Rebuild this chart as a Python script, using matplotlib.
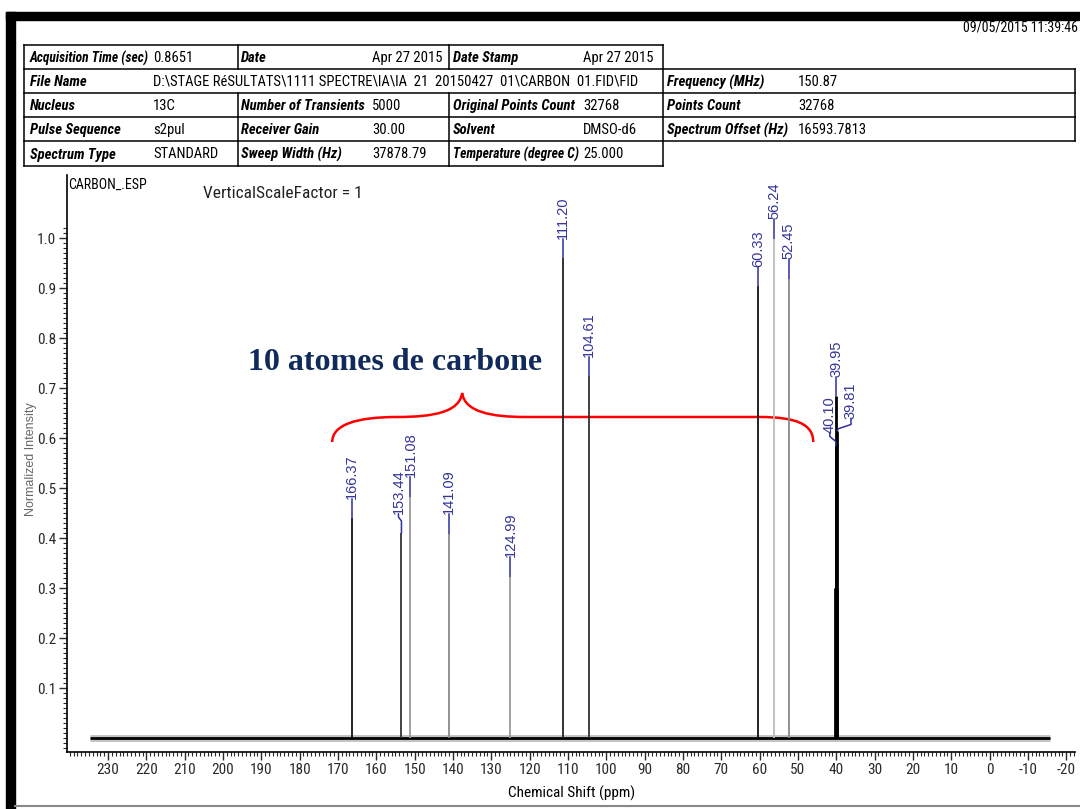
import numpy as np
import matplotlib
matplotlib.use('Agg')
import matplotlib.pyplot as plt
from matplotlib import font_manager
from matplotlib.patches import Rectangle, PathPatch
from matplotlib.path import Path
from matplotlib.lines import Line2D
from matplotlib.ticker import FixedLocator, FormatStrFormatter

# 13C peaks (ppm) and normalized heights
peak_ppm = [166.37, 153.44, 151.08, 141.09, 124.99, 111.20, 104.61, 60.33, 56.24, 52.45]
peak_height = [0.44, 0.41, 0.485, 0.41, 0.325, 0.96, 0.725, 0.905, 1.0, 0.92]
peak_color = ['#111111', '#333333', '#9a9a9a', '#8a8a8a', '#9a9a9a',
              '#222222', '#333333', '#111111', '#bbbbbb', '#888888']

# DMSO-d6 septet
dmso_ppm = [40.24, 40.10, 39.95, 39.81, 39.67]
dmso_height = [0.30, 0.585, 0.685, 0.615, 0.30]

# peak picking labels
label_text = ['166.37', '153.44', '151.08', '141.09', '124.99', '111.20', '104.61',
              '60.33', '56.24', '52.45', '40.10', '39.95', '39.81']
label_ppm = peak_ppm + [40.10, 39.95, 39.81]
label_height = peak_height + [0.585, 0.685, 0.615]

baseline_ppm = [234.7, -15.8]

# acquisition table
table_rows = [
    ['Acquisition Time (sec)', '0.8651', 'Date', 'Apr 27 2015', 'Date Stamp', 'Apr 27 2015'],
    ['File Name', 'D:\\STAGE RéSULTATS\\1111 SPECTRE\\IA\\IA  21  20150427  01\\CARBON  01.FID\\FID',
     'Frequency (MHz)', '150.87'],
    ['Nucleus', '13C', 'Number of Transients', '5000', 'Original Points Count', '32768',
     'Points Count', '32768'],
    ['Pulse Sequence', 's2pul', 'Receiver Gain', '30.00', 'Solvent', 'DMSO-d6',
     'Spectrum Offset (Hz)', '16593.7813'],
    ['Spectrum Type', 'STANDARD', 'Sweep Width (Hz)', '37878.79', 'Temperature (degree C)', '25.000'],
]

W, H = 1080, 809
names = {f.name for f in font_manager.fontManager.ttflist}
NARROW = next(c for c in ['Liberation Sans Narrow', 'Roboto Condensed', 'DejaVu Sans'] if c in names)
ARIAL = 'Liberation Sans'


def fx(px):
    return px / W


def fy(py):
    return 1 - py / H


fig = plt.figure(figsize=(W / 100, H / 100), dpi=100)
fig.patch.set_facecolor('white')

# --- page frame ---
fig.add_artist(Rectangle((fx(6), 0), fx(9), fy(12), transform=fig.transFigure, color='black'))
fig.add_artist(Rectangle((fx(6), fy(20)), 1, 8 / H, transform=fig.transFigure, color='black'))
fig.add_artist(Line2D([fx(15), 1], [fy(806), fy(806)], transform=fig.transFigure, color='#888888', lw=1.5))
fig.text(fx(1078), fy(27), '09/05/2015 11:39:46', ha='right', va='center', fontsize=10,
         family=NARROW, fontstretch='condensed')

# --- acquisition table ---
row_y = [45, 69, 93, 117, 141, 166]
col_x = [24, 237.6, 449, 663, 1075]
text_x = [30, 153, 241, 372, 453, 583, 667, 798]


def hline(y, x0, x1):
    fig.add_artist(Line2D([fx(x0), fx(x1)], [fy(y), fy(y)], transform=fig.transFigure, color='black', lw=1.1))


def vline(x, y0, y1):
    fig.add_artist(Line2D([fx(x), fx(x)], [fy(y0), fy(y1)], transform=fig.transFigure, color='black', lw=1.1))


hline(row_y[0], col_x[0], col_x[3])
for y in row_y[1:5]:
    hline(y, col_x[0], col_x[4])
hline(row_y[5], col_x[0], col_x[3])
vline(col_x[0], row_y[0], row_y[5])
vline(col_x[3], row_y[0], row_y[5])
vline(col_x[4], row_y[1], row_y[4])
for x in col_x[1:3]:
    vline(x, row_y[0], row_y[1])
    vline(x, row_y[2], row_y[5])

table_texts = []
for i, row in enumerate(table_rows):
    yc = (row_y[i] + row_y[i + 1]) / 2 + 1
    if i == 1:
        xs = [text_x[0], text_x[1], text_x[6], text_x[7]]
        limits = [text_x[1], text_x[6] - 10, text_x[7], 1070]
    else:
        xs = text_x[:len(row)]
        limits = (text_x[1:] + [1070])[:len(row)]
    for j, (s, x, lim) in enumerate(zip(row, xs, limits)):
        is_label = (j % 2 == 0)
        t = fig.text(fx(x), fy(yc), s, va='center', ha='left', fontsize=10.5, family=NARROW,
                     fontstretch='condensed',
                     fontweight='bold' if is_label else 'normal',
                     fontstyle='italic' if is_label else 'normal')
        table_texts.append((t, lim - x - 4))

# shrink table texts that do not fit in their cell
fig.canvas.draw()
renderer = fig.canvas.get_renderer()
for t, maxw in table_texts:
    while t.get_window_extent(renderer).width > maxw and t.get_fontsize() > 6:
        t.set_fontsize(t.get_fontsize() - 0.25)

# --- spectrum ---
ax = fig.add_axes([fx(67), fy(752), (1075 - 67) / W, (752 - 175) / H])
ax.set_xlim(240.7, -22.3)
ax.set_ylim(-0.028, 1.126)

# baseline
ax.plot(baseline_ppm, [0, 0], color='#555555', lw=5, alpha=0.35, solid_capstyle='butt')
ax.plot(baseline_ppm, [0, 0], color='black', lw=2.0, solid_capstyle='butt')

ax.vlines(peak_ppm, 0, peak_height, colors=peak_color, lw=1.3)
ax.vlines(dmso_ppm, 0, dmso_height, colors='black', lw=2.0)


def px_off(x, y, dx, dy):
    X, Y = ax.transData.transform((x, y))
    return ax.transData.inverted().transform((X + dx, Y + dy))


# leader shapes in pixels relative to the peak top
leaders = {
    '153.44': [(0, 0), (0, 12), (-3, 16), (-3, 19)],
    '40.10': [(0, 0), (0, 4), (-6, 9), (-6, 13)],
    '39.81': [(0, 0), (2, 2), (14, 6), (14, 12)],
}
for s, x, h in zip(label_text, label_ppm, label_height):
    pts = leaders.get(s, [(0, 0), (0, 19)])
    xy = np.array([px_off(x, h, dx, dy) for dx, dy in pts])
    ax.plot(xy[:, 0], xy[:, 1], color='#2f2f9f', lw=1.1)
    ax.text(xy[-1, 0], xy[-1, 1], s, rotation=90, ha='center', va='bottom',
            fontsize=10.5, family=ARIAL, color='#35359b')

# red brace
verts = [(171.5, 0.592),
         (171.5, 0.627), (165.0, 0.642), (154.6, 0.642),
         (145.0, 0.642), (138.3, 0.652), (137.6, 0.690),
         (136.9, 0.652), (130.0, 0.642), (121.0, 0.642),
         (60.0, 0.642),
         (50.5, 0.642), (46.0, 0.628), (46.0, 0.592)]
codes = ([Path.MOVETO] + [Path.CURVE4] * 3 + [Path.CURVE4] * 3 + [Path.CURVE4] * 3
         + [Path.LINETO] + [Path.CURVE4] * 3)
ax.add_patch(PathPatch(Path(verts, codes), fill=False, edgecolor='#ff0000', lw=1.8))

fig.text(fx(395), fy(363), '10 atomes de carbone', ha='center', va='center', fontsize=23,
         family='Liberation Serif', fontweight='bold', color='#102a5c')

# axes styling
for side in ['top', 'right']:
    ax.spines[side].set_visible(False)
for side in ['left', 'bottom']:
    ax.spines[side].set_linewidth(1.2)

ax.xaxis.set_major_locator(FixedLocator(np.arange(-20, 231, 10)))
ax.xaxis.set_minor_locator(FixedLocator(np.arange(-22, 241, 1)))
ax.xaxis.set_major_formatter(FormatStrFormatter('%d'))
ax.yaxis.set_major_locator(FixedLocator(np.arange(0.1, 1.01, 0.1)))
ax.yaxis.set_minor_locator(FixedLocator(np.arange(-0.02, 1.025, 0.01)))
ax.yaxis.set_major_formatter(FormatStrFormatter('%.1f'))
ax.tick_params(which='major', direction='out', length=6, width=1.0, pad=2, colors='#2a2a2a')
ax.tick_params(which='minor', direction='out', length=3, width=0.8, colors='#2a2a2a')
for lab in ax.get_xticklabels() + ax.get_yticklabels():
    lab.set_family(NARROW)
    lab.set_stretch('condensed')
    lab.set_fontsize(11)

fig.text(fx(68), fy(185), 'CARBON_.ESP', ha='left', va='center', fontsize=10,
         family=NARROW, fontstretch='condensed')
fig.text(fx(203), fy(193), 'VerticalScaleFactor = 1', ha='left', va='center', fontsize=12.5,
         family=NARROW, fontstretch='condensed', color='#222222')
fig.text(fx(31), fy(459), 'Normalized Intensity', rotation=90, ha='center', va='center',
         fontsize=9, family=ARIAL, color='#666666')
fig.text(fx(572), fy(793), 'Chemical Shift (ppm)', ha='center', va='center', fontsize=11,
         family=NARROW, fontstretch='condensed')

fig.savefig('out.png', dpi=100)
